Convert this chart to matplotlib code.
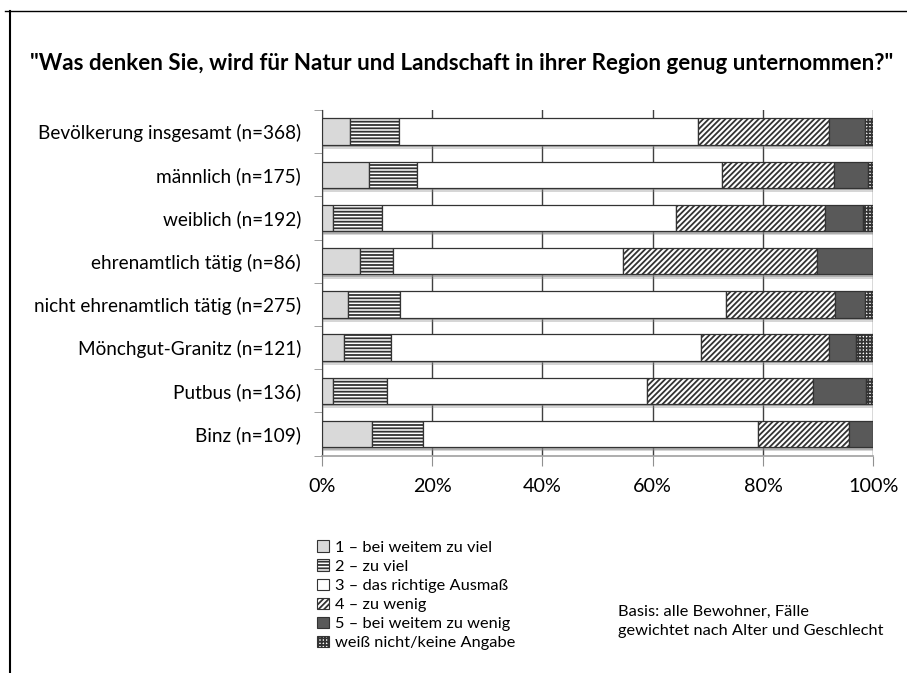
import numpy as np
import matplotlib
matplotlib.use("Agg")
import matplotlib.pyplot as plt
from matplotlib.lines import Line2D
from matplotlib.patches import Patch
import matplotlib.transforms as mtransforms

plt.rcParams['font.family'] = ['Lato', 'DejaVu Sans']
plt.rcParams['hatch.linewidth'] = 1.3

groups = ["Bevölkerung insgesamt (n=368)", "männlich (n=175)", "weiblich (n=192)",
          "ehrenamtlich tätig (n=86)", "nicht ehrenamtlich tätig (n=275)",
          "Mönchgut-Granitz (n=121)", "Putbus (n=136)", "Binz (n=109)"]

answers = ["1 – bei weitem zu viel", "2 – zu viel", "3 – das richtige Ausmaß",
           "4 – zu wenig", "5 – bei weitem zu wenig", "weiß nicht/keine Angabe"]

# Prozentwerte je Antwort (Reihenfolge wie groups)
a1 = [5.2, 8.5, 2.0, 6.9, 4.8, 4.1, 2.1, 9.2]
a2 = [8.9, 8.7, 8.9, 6.0, 9.4, 8.4, 9.8, 9.2]
a3 = [54.1, 55.4, 53.3, 41.8, 59.0, 56.3, 47.1, 60.6]
a4 = [23.7, 20.2, 27.1, 35.0, 19.8, 23.1, 30.1, 16.5]
a5 = [6.6, 6.2, 6.8, 10.3, 5.4, 4.9, 9.5, 4.5]
a6 = [1.5, 1.0, 1.9, 0.0, 1.6, 3.2, 1.4, 0.0]

series = [a1, a2, a3, a4, a5, a6]
faces = ["#d9d9d9", "white", "white", "white", "#595959", "white"]
hatches = [None, "-----", None, "//////", None, "+++++"]

fig = plt.figure(figsize=(9.07, 6.73), dpi=100)
ax = fig.add_axes([0.3547, 0.323, 0.6082, 0.5136])

y = np.arange(len(groups))
totals = np.sum(np.array(series), axis=0)

# Schatten unter den Balken
for alpha, dy in [(0.35, -3.0), (0.5, -1.8)]:
    sh = ax.barh(y, totals, height=0.61, color="#8a8a8a", alpha=alpha,
                 linewidth=0, zorder=2)
    off = mtransforms.ScaledTranslation(0.8 / 72, dy / 72, fig.dpi_scale_trans)
    for b in sh:
        b.set_transform(ax.transData + off)

left = np.zeros(len(groups))
for vals, fc, h in zip(series, faces, hatches):
    vals = np.array(vals)
    ax.barh(y, vals, left=left, height=0.61, color=fc, hatch=h,
            edgecolor="#333333", linewidth=0.9, zorder=3)
    left += vals

ax.set_xlim(0, 100)
ax.set_ylim(len(groups) - 0.5, -0.5)
ax.set_xticks([0, 20, 40, 60, 80, 100])
ax.set_xticklabels(["0%", "20%", "40%", "60%", "80%", "100%"], fontsize=14.2)
ax.set_yticks(y)
ax.set_yticklabels(groups, fontsize=13.7)
ax.tick_params(axis="y", length=0, pad=15)
ax.set_yticks(np.arange(len(groups) + 1) - 0.5, minor=True)
ax.tick_params(axis="y", which="minor", length=6, color="#909090", direction="out")
ax.tick_params(axis="x", length=7, color="#909090", direction="out", pad=9)
ax.grid(axis="x", color="#404040", linewidth=1, zorder=0)

for s in ["top", "right"]:
    ax.spines[s].set_visible(False)
ax.spines["left"].set_color("#404040")
ax.spines["bottom"].set_color("#a0a0a0")
ax.spines["bottom"].set_linewidth(1.2)

fig.text(0.509, 0.906, "\"Was denken Sie, wird für Natur und Landschaft in ihrer Region genug unternommen?\"",
         ha="center", va="center", fontsize=16.1, fontweight="bold")

handles = [Patch(facecolor=fc, hatch=h, edgecolor="#333333", linewidth=0.8)
           for fc, h in zip(faces, hatches)]
fig.legend(handles, answers, loc="upper left", bbox_to_anchor=(0.350, 0.197),
           frameon=False, fontsize=11.8, handlelength=0.7, handleheight=0.7,
           handletextpad=0.35, labelspacing=0.28, borderpad=0, borderaxespad=0)

fig.text(0.681, 0.076, "Basis: alle Bewohner, Fälle\ngewichtet nach Alter und Geschlecht",
         ha="left", va="center", fontsize=11.8, linespacing=1.45)

# Rahmen
fig.add_artist(Line2D([0.0106, 0.0106], [0, 0.984], color="black", linewidth=1.5, transform=fig.transFigure))
fig.add_artist(Line2D([0.006, 1.0], [0.984, 0.984], color="black", linewidth=1.0, transform=fig.transFigure))

fig.savefig("out.png", dpi=100)
